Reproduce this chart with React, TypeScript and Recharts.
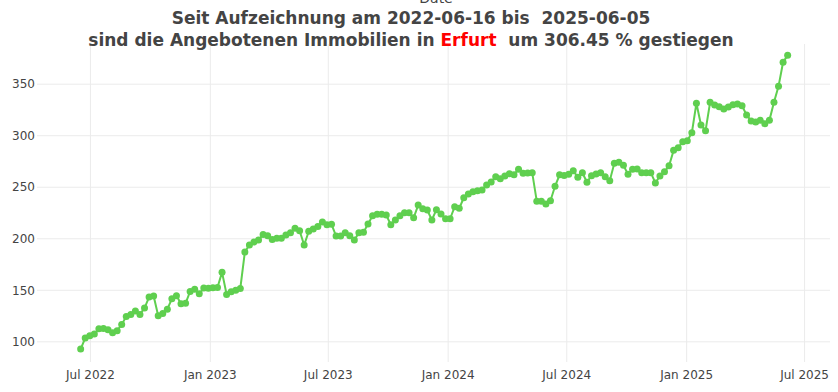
import React from 'react';
import { LineChart, Line, XAxis, YAxis, CartesianGrid } from 'recharts';

// weekly values, first week 2022-06-16
const startDate = Date.UTC(2022, 5, 16);
const values = [
  93, 103.6, 105.8, 107.5, 112.6, 113, 111.7, 108.7, 110.7, 116.9,
  124.6, 126.6, 129.8, 126.6, 132.7, 143.4, 144.4, 125.2, 127.5, 131.7,
  141.7, 144.7, 136.9, 137.3, 148.9, 150.9, 146.6, 152.1, 152, 152.5,
  152.8, 167.4, 146, 148.5, 150, 151.8, 187.1, 193.9, 196.8, 198.7,
  204.2, 202.9, 199.4, 200.4, 200.4, 203.6, 205.8, 210.1, 207.8, 193.9,
  207.2, 209.4, 212, 216.2, 213.6, 214, 202.6, 202.6, 205.8, 202.9,
  198.7, 205.8, 206.2, 214.3, 222.3, 223.7, 223.7, 223, 213.6, 218.2,
  222.3, 225.2, 225.2, 220.4, 232.7, 229.1, 227.8, 218.2, 228.2, 224,
  219.4, 219.4, 231.1, 229.5, 239.8, 243.4, 245.6, 246.6, 247.3, 252.1,
  255.1, 260.2, 258.3, 260.9, 263.1, 262.1, 267.4, 263.5, 263.8, 264.1,
  236.3, 236.3, 233.7, 236.9, 250.9, 262.1, 261.5, 262.5, 266, 259.6,
  264.1, 254.8, 261.2, 262.8, 264.1, 260.2, 256.3, 273.2, 274.2, 271.3,
  262.5, 267.4, 267.8, 264.1, 264.1, 264.1, 254.1, 260.9, 265, 270.9,
  285.8, 288.3, 294.2, 295.1, 302.9, 331.5, 310.4, 304.9, 332.4, 329.8,
  328.2, 325.9, 327.9, 330.1, 330.8, 329.1, 320.1, 314.3, 313.3, 314.9,
  311.7, 314.9, 332.4, 347.9, 371.3, 378,
];

const xTicks = [
  Date.UTC(2022, 6, 1), Date.UTC(2023, 0, 1), Date.UTC(2023, 6, 1),
  Date.UTC(2024, 0, 1), Date.UTC(2024, 6, 1), Date.UTC(2025, 0, 1), Date.UTC(2025, 6, 1),
];
const xTickLabels = ['Jul 2022', 'Jan 2023', 'Jul 2023', 'Jan 2024', 'Jul 2024', 'Jan 2025', 'Jul 2025'];
const yTicks = [100, 150, 200, 250, 300, 350];

const data = values.map((v, i) => ({ date: startDate + i * 7 * 86400000, value: v }));

const GREEN = '#5fcf4f';
const FONT = '"DejaVu Sans", verdana, arial, sans-serif';

export default function App() {
  return (
    <div style={{ position: 'absolute', left: 0, top: 0, width: 838, height: 392, background: '#fff', fontFamily: FONT }}>
      <LineChart width={838} height={392} data={data} margin={{ top: 44, right: 8, bottom: 0, left: 0 }}>
        <CartesianGrid stroke="#ebebeb" strokeWidth={1} verticalValues={xTicks} horizontalValues={yTicks} />
        <XAxis
          dataKey="date"
          type="number"
          scale="time"
          domain={[Date.UTC(2022, 3, 10), Date.UTC(2025, 7, 9)]}
          ticks={xTicks}
          tickFormatter={(t: number) => xTickLabels[xTicks.indexOf(t)] ?? ''}
          axisLine={false}
          tickLine={false}
          height={30}
          tick={{ fill: '#444', fontSize: 12, fontFamily: FONT }}
          interval={0}
        />
        <YAxis
          type="number"
          domain={[80.4, 389]}
          ticks={yTicks}
          axisLine={false}
          tickLine={false}
          tickSize={0}
          tickMargin={2}
          width={37}
          tick={{ fill: '#444', fontSize: 12, fontFamily: FONT }}
          interval={0}
        />
        <Line
          type="linear"
          dataKey="value"
          stroke={GREEN}
          strokeWidth={2}
          dot={{ r: 3.5, fill: GREEN, stroke: GREEN, strokeWidth: 0 }}
          isAnimationActive={false}
        />
      </LineChart>
      <div style={{ position: 'absolute', left: 0, width: 872, top: -10, textAlign: 'center', fontSize: 14, color: '#444' }}>
        Date
      </div>
      <div style={{ position: 'absolute', left: 0, width: 822, top: 7, textAlign: 'center', fontSize: 17, fontWeight: 'bold', color: '#444', lineHeight: '22px', whiteSpace: 'pre' }}>
        <div>Seit Aufzeichnung am 2022-06-16 bis  2025-06-05</div>
        <div>
          sind die Angebotenen Immobilien in <span style={{ color: 'red' }}>Erfurt</span>  um 306.45 % gestiegen
        </div>
      </div>
    </div>
  );
}
